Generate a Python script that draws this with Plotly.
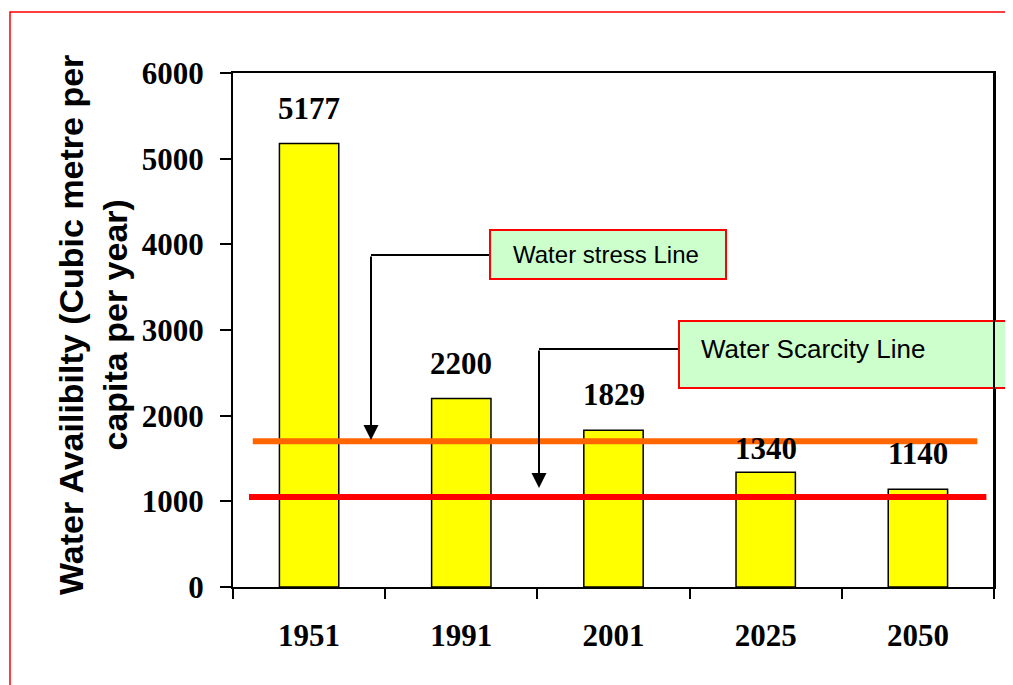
import plotly.graph_objects as go

# ---- data ----
years = ["1951", "1991", "2001", "2025", "2050"]
availability = [5177, 2200, 1829, 1340, 1140]
y_ticks = [0, 1000, 2000, 3000, 4000, 5000, 6000]
stress_line = 1700
scarcity_line = 1050
stress_label = "Water stress Line"
scarcity_label = "Water Scarcity Line"
y_title = "Water Availibilty (Cubic metre per<br>capita per year)"

# ---- layout geometry (page pixels; page body has an 8px margin) ----
OFF = 8
W, H = 1013 - OFF, 685 - OFF
PLOT_L, PLOT_R, PLOT_T, PLOT_B = 233, 994, 73, 587  # page pixel positions of plot area
L = PLOT_L - OFF
T = PLOT_T - OFF
R = W - (PLOT_R - OFF)
B = H - (PLOT_B - OFF)
PW, PH = W - L - R, H - T - B


def px(xp):
    return (xp - PLOT_L) / PW


def py(yp):
    return (PLOT_B - yp) / PH


SERIF = "Liberation Serif"
SANS = "Liberation Sans"

fig = go.Figure(
    go.Bar(
        x=years,
        y=availability,
        width=0.39,
        marker=dict(color="#FFFF00", line=dict(color="black", width=1.5)),
        hoverinfo="x+y",
    )
)

# value labels above bars
label_shift = {"2025": 4}
for i, (yr, v) in enumerate(zip(years, availability)):
    fig.add_annotation(
        x=i, y=v, xref="x", yref="y", text=str(v), showarrow=False,
        yanchor="bottom", yshift=label_shift.get(yr, 16),
        font=dict(family=SERIF, size=31, color="black", weight="bold"),
    )

shapes = []
# outer red frame
shapes.append(dict(type="rect", xref="paper", yref="paper",
                   x0=px(10), x1=px(1100), y0=py(760), y1=py(12),
                   line=dict(color="#FF0000", width=1.5), fillcolor="rgba(0,0,0,0)", layer="below"))
# threshold lines
shapes.append(dict(type="line", xref="x", yref="y", x0=-0.37, x1=4.39,
                   y0=stress_line, y1=stress_line, line=dict(color="#FF6600", width=6)))
shapes.append(dict(type="line", xref="x", yref="y", x0=-0.395, x1=4.45,
                   y0=scarcity_line, y1=scarcity_line, line=dict(color="#FF0000", width=6)))
# connector segments
shapes.append(dict(type="line", xref="paper", yref="paper", x0=px(371), x1=px(490),
                   y0=py(255), y1=py(255), line=dict(color="black", width=2)))
shapes.append(dict(type="line", xref="paper", yref="paper", x0=px(539), x1=px(679),
                   y0=py(349), y1=py(349), line=dict(color="black", width=2)))
# label boxes
shapes.append(dict(type="rect", xref="paper", yref="paper", x0=px(490), x1=px(726),
                   y0=py(279), y1=py(230), fillcolor="#CCFFCC", line=dict(color="#FF0000", width=2)))
shapes.append(dict(type="rect", xref="paper", yref="paper", x0=px(679), x1=px(1030),
                   y0=py(388), y1=py(321), fillcolor="#CCFFCC", line=dict(color="#FF0000", width=2)))
# right axis line on top of the box
shapes.append(dict(type="line", xref="paper", yref="paper", x0=1, x1=1, y0=0, y1=1,
                   line=dict(color="black", width=2)))
fig.update_layout(shapes=shapes)

# arrows
fig.add_annotation(xref="paper", yref="paper", x=px(371), y=py(440), ax=0, ay=-(440 - 255),
                   text="", showarrow=True, arrowhead=2, arrowsize=1.5, arrowwidth=2, arrowcolor="black")
fig.add_annotation(xref="paper", yref="paper", x=px(539), y=py(488), ax=0, ay=-(488 - 349),
                   text="", showarrow=True, arrowhead=2, arrowsize=1.5, arrowwidth=2, arrowcolor="black")

# box texts
fig.add_annotation(xref="paper", yref="paper", x=px(511), y=py(255), xanchor="left", yanchor="middle",
                   text=stress_label, showarrow=False, font=dict(family=SANS, size=24, color="black"))
fig.add_annotation(xref="paper", yref="paper", x=px(699), y=py(349), xanchor="left", yanchor="middle",
                   text=scarcity_label, showarrow=False, font=dict(family=SANS, size=26, color="black"))

# y axis title
fig.add_annotation(xref="paper", yref="paper", x=px(93), y=py(325), xanchor="center", yanchor="middle",
                   text=y_title, showarrow=False, textangle=-90,
                   font=dict(family=SANS, size=34, color="black", weight="bold"))

fig.update_xaxes(
    type="category", tickson="boundaries", ticks="outside", ticklen=10, tickwidth=1.5,
    tickcolor="black", showline=True, linecolor="black", linewidth=2, mirror=True,
    showgrid=False, tickfont=dict(family=SERIF, size=31, color="black", weight="bold"),
    ticklabelstandoff=20, range=[-0.5, 4.5],
)
fig.update_yaxes(
    range=[0, 6000], tickvals=y_ticks, ticks="outside", ticklen=11, tickwidth=1.5,
    tickcolor="black", showline=True, linecolor="black", linewidth=2, mirror=True,
    showgrid=False, zeroline=False,
    tickfont=dict(family=SERIF, size=31, color="black", weight="bold"),
    ticklabelstandoff=10,
)
fig.update_layout(
    width=W, height=H, margin=dict(l=L, r=R, t=T, b=B, pad=0),
    paper_bgcolor="white", plot_bgcolor="white", showlegend=False,
)

fig.write_html("out.html")
